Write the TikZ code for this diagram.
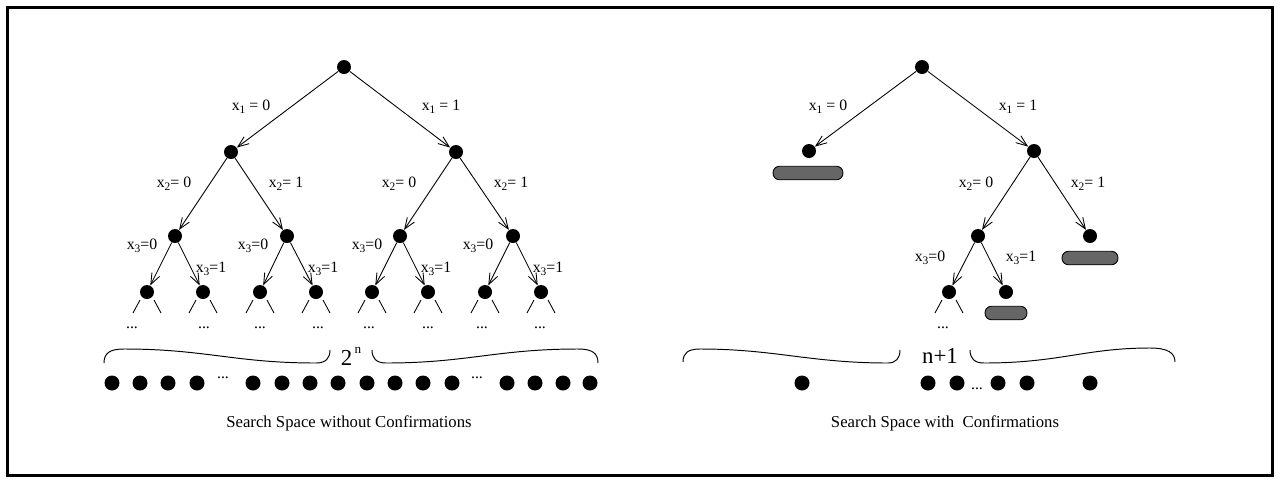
\documentclass[tikz,border=0pt]{standalone}
\usepackage{fontspec}
\setmainfont{Liberation Serif}
\usetikzlibrary{arrows.meta, positioning, calc}
\newcommand{\xsub}[1]{x\raisebox{-0.45ex}{\fontsize{6.5}{7}\selectfont #1}}

\begin{document}
\begin{tikzpicture}[
  x=0.02cm, y=-0.02cm,
  every node/.style={font=\fontsize{9}{10}\selectfont},
  dot/.style={circle, fill=black, inner sep=0pt, minimum size=0.28cm},
  leaf/.style={circle, fill=black, inner sep=0pt, minimum size=0.3cm},
  arrow/.style={-{Straight Barb[length=2.2mm, width=1.7mm]}, line width=0.5pt},
  stub/.style={line width=0.5pt},
  lbl/.style={anchor=base, inner sep=0pt},
  cut/.style={draw=black, fill=black!60, line width=0.5pt, rounded corners=0.13cm, minimum height=0.27cm, inner sep=0pt},
  brace/.style={line width=0.55pt}
]
  \path[use as bounding box] (0,0) rectangle (1281,481);
  \draw[line width=1.7pt] (7.5,7.5) rectangle (1272.5,475.5);

  % Full tree
  \node[dot] (n) at (344,67) {};
  \node[dot] (n0) at (231,152) {};
  \node[dot] (n1) at (456,152) {};
  \node[dot] (n00) at (175,236) {};
  \node[dot] (n01) at (287,236) {};
  \node[dot] (n10) at (400,236) {};
  \node[dot] (n11) at (513,236) {};
  \node[dot] (n000) at (147,292) {};
  \node[dot] (n001) at (203,292) {};
  \node[dot] (n010) at (260,292) {};
  \node[dot] (n011) at (316,292) {};
  \node[dot] (n100) at (372,292) {};
  \node[dot] (n101) at (428,292) {};
  \node[dot] (n110) at (485,292) {};
  \node[dot] (n111) at (541,292) {};

  \draw[arrow] (n) -- (n0);
  \draw[arrow] (n) -- (n1);
  \draw[arrow] (n0) -- (n00);
  \draw[arrow] (n0) -- (n01);
  \draw[arrow] (n1) -- (n10);
  \draw[arrow] (n1) -- (n11);
  \draw[arrow] (n00) -- (n000);
  \draw[arrow] (n00) -- (n001);
  \draw[arrow] (n01) -- (n010);
  \draw[arrow] (n01) -- (n011);
  \draw[arrow] (n10) -- (n100);
  \draw[arrow] (n10) -- (n101);
  \draw[arrow] (n11) -- (n110);
  \draw[arrow] (n11) -- (n111);

  \node[lbl] (ln0) at (251,110) {\xsub{1} = 0};
  \node[lbl] (ln1) at (441,110) {\xsub{1} = 1};
  \node[lbl] (ln00) at (174,187) {\xsub{2}= 0};
  \node[lbl] (ln01) at (286,187) {\xsub{2}= 1};
  \node[lbl] (ln10) at (399,187) {\xsub{2}= 0};
  \node[lbl] (ln11) at (511,187) {\xsub{2}= 1};
  \node[lbl] (ln000) at (142,249) {\xsub{3}=0};
  \node[lbl] (ln010) at (253,249) {\xsub{3}=0};
  \node[lbl] (ln100) at (367,249) {\xsub{3}=0};
  \node[lbl] (ln110) at (478,249) {\xsub{3}=0};
  \node[lbl] (ln001) at (211,272) {\xsub{3}=1};
  \node[lbl] (ln011) at (323,272) {\xsub{3}=1};
  \node[lbl] (ln101) at (436,272) {\xsub{3}=1};
  \node[lbl] (ln111) at (548,272) {\xsub{3}=1};

  \foreach \v in {n000,n001,n010,n011,n100,n101,n110,n111}
    \draw[stub] ([shift={(-7,8)}]\v.center) -- ++(-7,13)
                ([shift={(7,8)}]\v.center) -- ++(7,13);

  \node[lbl] (d1) at (132,328) {...};
  \node[lbl] (d2) at (204,328) {...};
  \node[lbl] (d3) at (260,328) {...};
  \node[lbl] (d4) at (318,328) {...};
  \node[lbl] (d5) at (369,328) {...};
  \node[lbl] (d6) at (428,328) {...};
  \node[lbl] (d7) at (482,328) {...};
  \node[lbl] (d8) at (540,328) {...};

  % 2^n leaves
  \draw[brace] (104,363) .. controls (104,353) and (110,349) .. (124,349)
    .. controls (205,349) and (235,363) .. (316,363)
    .. controls (326,363) and (330,358) .. (330,350);
  \draw[brace] (372,350) .. controls (372,358) and (376,363) .. (386,363)
    .. controls (467,363) and (497,349) .. (578,349)
    .. controls (592,349) and (598,353) .. (598,363);
  \node[lbl, font=\fontsize{13}{15}\selectfont] (cnt) at (351,365) {2\raisebox{1.1ex}{\fontsize{7.5}{8}\selectfont\,n}};

  \foreach \x [count=\i] in {112,140,168,197,253,282,310,338,367,395,423,452,507,535,563,590}
    \node[leaf] (s\i) at (\x,383) {};
  \node[lbl] (sd1) at (223,378) {...};
  \node[lbl] (sd2) at (477,378) {...};

  \node[lbl, font=\fontsize{9.5}{11}\selectfont] (cap1) at (349,427) {Search Space without Confirmations};

  % Tree with confirmations
  \node[dot] (c) at (922,67) {};
  \node[dot] (c0) at (809,151) {};
  \node[dot] (c1) at (1034,151) {};
  \node[dot] (c10) at (978,236) {};
  \node[dot] (c11) at (1090,236) {};
  \node[dot] (c100) at (949,292) {};
  \node[dot] (c101) at (1006,292) {};

  \node[cut, minimum width=1.4cm] (p0) at (808,173) {};
  \node[cut, minimum width=1.12cm] (p11) at (1090,258) {};
  \node[cut, minimum width=0.84cm] (p101) at (1006,313) {};

  \draw[arrow] (c) -- (c0);
  \draw[arrow] (c) -- (c1);
  \draw[arrow] (c1) -- (c10);
  \draw[arrow] (c1) -- (c11);
  \draw[arrow] (c10) -- (c100);
  \draw[arrow] (c10) -- (c101);

  \node[lbl] (lc0) at (828,110) {\xsub{1} = 0};
  \node[lbl] (lc1) at (1018,110) {\xsub{1} = 1};
  \node[lbl] (lc10) at (976,187) {\xsub{2}= 0};
  \node[lbl] (lc11) at (1088,187) {\xsub{2}= 1};
  \node[lbl] (lc100) at (930,261) {\xsub{3}=0};
  \node[lbl] (lc101) at (1021,261) {\xsub{3}=1};

  \draw[stub] ([shift={(-7,8)}]c100.center) -- ++(-7,13)
              ([shift={(7,8)}]c100.center) -- ++(7,13);
  \node[lbl] (dc) at (943,328) {...};

  % n+1 leaves
  \draw[brace] (683,362) .. controls (683,353) and (688,349) .. (700,349)
    .. controls (775,349) and (810,363) .. (888,363)
    .. controls (896,363) and (900,358) .. (900,350);
  \draw[brace] (970,350) .. controls (970,358) and (974,363) .. (984,363)
    .. controls (1060,363) and (1085,348) .. (1150,348)
    .. controls (1168,348) and (1175,353) .. (1175,362);
  \node[lbl, font=\fontsize{13}{15}\selectfont] (cntc) at (940,363) {n+1};

  \foreach \x [count=\i] in {802,928,957,998,1027,1090}
    \node[leaf] (k\i) at (\x,383) {};
  \node[lbl] (kd) at (977,389) {...};

  \node[lbl, font=\fontsize{9.5}{11}\selectfont] (cap2) at (945,427) {Search Space with~ Confirmations};
\end{tikzpicture}
\end{document}
